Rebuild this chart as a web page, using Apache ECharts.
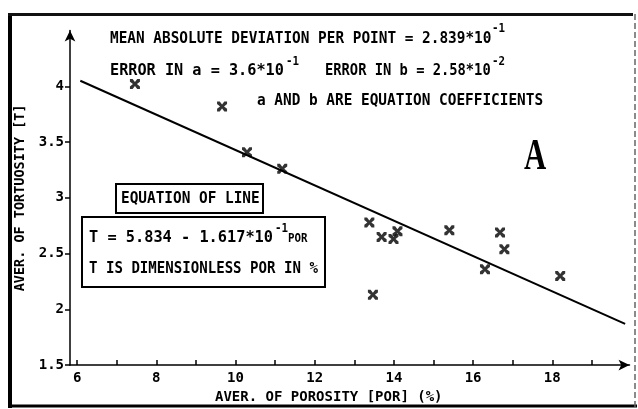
<!DOCTYPE html>
<html>
<head>
<meta charset="utf-8">
<script src="https://cdn.jsdelivr.net/npm/echarts@6/dist/echarts.min.js"></script>
<style>html,body{margin:0;padding:0;background:#fff;}#c{width:638px;height:409px;}</style>
</head>
<body>
<div id="c"></div>
<script>
// Data
const porosity   = [7.46, 9.66, 10.29, 11.18, 13.38, 13.69, 13.99, 14.09, 15.40, 16.68, 16.79, 16.30, 18.20, 13.47];
const tortuosity = [4.02, 3.82, 3.41, 3.26, 2.78, 2.65, 2.63, 2.70, 2.71, 2.69, 2.54, 2.36, 2.30, 2.13];
const fitLineX   = [6.08, 19.84];
const fitLineY   = [4.05, 1.87];
const xTickLabels = [6, 8, 10, 12, 14, 16, 18];
const xTicks      = [6, 7, 8, 9, 10, 11, 12, 13, 14, 15, 16, 17, 18, 19];
const yTickLabels = [1.5, 2, 2.5, 3, 3.5, 4];

const FONT = '"DejaVu Sans Mono", monospace';
const chart = echarts.init(document.getElementById('c'), null, {renderer: 'canvas'});

function txt(x, y, s, size, sx, extra) {
  return Object.assign({
    type: 'text', x: x, y: y, scaleX: sx, z: 10,
    style: { text: s, font: 'bold ' + size + 'px ' + FONT, fill: '#000',
             textAlign: 'left', textVerticalAlign: 'middle' }
  }, extra || {});
}

const xPath = 'path://M0,0 L2.7,0 L5,3 L7.3,0 L10,0 L10,2.7 L7,5 L10,7.3 L10,10 L7.3,10 L5,7 L2.7,10 L0,10 L0,7.3 L3,5 L0,2.7 Z';

const option = {
  animation: false,
  backgroundColor: '#fff',
  grid: { left: 70, right: 8.5, top: 30.6, bottom: 40, containLabel: false },
  xAxis: {
    type: 'value', min: 5.82, max: 19.95,
    name: 'AVER. OF POROSITY [POR] (%)', nameLocation: 'middle', nameGap: 20,
    nameTextStyle: { fontFamily: FONT, fontWeight: 'bold', fontSize: 14, color: '#000', padding: [0, 42, 0, 0] },
    axisLine: { onZero: false, symbol: ['none', 'arrow'], symbolSize: [8, 11], lineStyle: { color: '#000', width: 1.5 } },
    axisTick: { inside: true, length: 5, customValues: xTicks, lineStyle: { color: '#000', width: 1.5 } },
    axisLabel: { customValues: xTickLabels, margin: 6, fontFamily: FONT, fontWeight: 'bold', fontSize: 14, color: '#000' },
    splitLine: { show: false }
  },
  yAxis: {
    type: 'value', min: 1.5, max: 4.5,
    name: 'AVER. OF TORTUOSITY [T]', nameLocation: 'middle', nameGap: 40, nameRotate: 90,
    nameTextStyle: { fontFamily: FONT, fontWeight: 'bold', fontSize: 13.5, color: '#000' },
    axisLine: { onZero: false, symbol: ['none', 'arrow'], symbolSize: [8, 11], lineStyle: { color: '#000', width: 1.5 } },
    axisTick: { inside: false, length: 5, customValues: yTickLabels, lineStyle: { color: '#000', width: 1.5 } },
    axisLabel: { customValues: yTickLabels, margin: 6, fontFamily: FONT, fontWeight: 'bold', fontSize: 14, color: '#000' },
    splitLine: { show: false }
  },
  series: [
    {
      type: 'line', data: fitLineX.map((x, i) => [x, fitLineY[i]]),
      showSymbol: false, lineStyle: { color: '#000', width: 2 }, z: 2
    },
    {
      type: 'scatter', data: porosity.map((x, i) => [x, tortuosity[i]]),
      symbol: xPath, symbolSize: 10, itemStyle: { color: '#000' }, z: 3
    }
  ],
  graphic: [
    // outer frame
    { type: 'line', shape: { x1: 10, y1: 13, x2: 10, y2: 408 }, style: { stroke: '#000', lineWidth: 4 } },
    { type: 'line', shape: { x1: 8, y1: 14.5, x2: 633, y2: 14.5 }, style: { stroke: '#111', lineWidth: 3 } },
    { type: 'line', shape: { x1: 8, y1: 406, x2: 637, y2: 406 }, style: { stroke: '#000', lineWidth: 3 } },
    { type: 'line', shape: { x1: 635, y1: 14, x2: 635, y2: 407 }, style: { stroke: '#666', lineWidth: 1.5, lineDash: [6, 3] } },
    // header text
    txt(110, 39, 'MEAN ABSOLUTE DEVIATION PER POINT = 2.839*10', 16, 0.9),
    txt(492, 29, '-1', 12, 0.9),
    txt(110, 71, 'ERROR IN a = 3.6*10', 16, 0.95),
    txt(286, 62, '-1', 12, 0.9),
    txt(325, 71, 'ERROR IN b = 2.58*10', 16, 0.86),
    txt(492, 62, '-2', 12, 0.9),
    txt(257, 101, 'a AND b ARE EQUATION COEFFICIENTS', 16, 0.9),
    // big letter A
    { type: 'text', x: 535, y: 158, scaleX: 0.7, z: 10,
      style: { text: 'A', font: 'bold 44px "Liberation Serif", serif', fill: '#000', textAlign: 'center', textVerticalAlign: 'middle' } },
    // equation boxes
    { type: 'rect', shape: { x: 116, y: 184, width: 147, height: 29 }, style: { stroke: '#000', fill: 'transparent', lineWidth: 2 }, z: 9 },
    txt(121, 198.5, 'EQUATION OF LINE', 16, 0.9),
    { type: 'rect', shape: { x: 82, y: 217, width: 243, height: 70 }, style: { stroke: '#000', fill: '#fff', lineWidth: 2 }, z: 9 },
    txt(89, 238, 'T = 5.834 - 1.617*10', 16, 0.955),
    txt(275, 229, '-1', 12, 0.9),
    txt(288, 239, 'POR', 12, 0.9),
    txt(89, 269, 'T IS DIMENSIONLESS POR IN %', 16, 0.88)
  ]
};
chart.setOption(option);
</script>
</body>
</html>
